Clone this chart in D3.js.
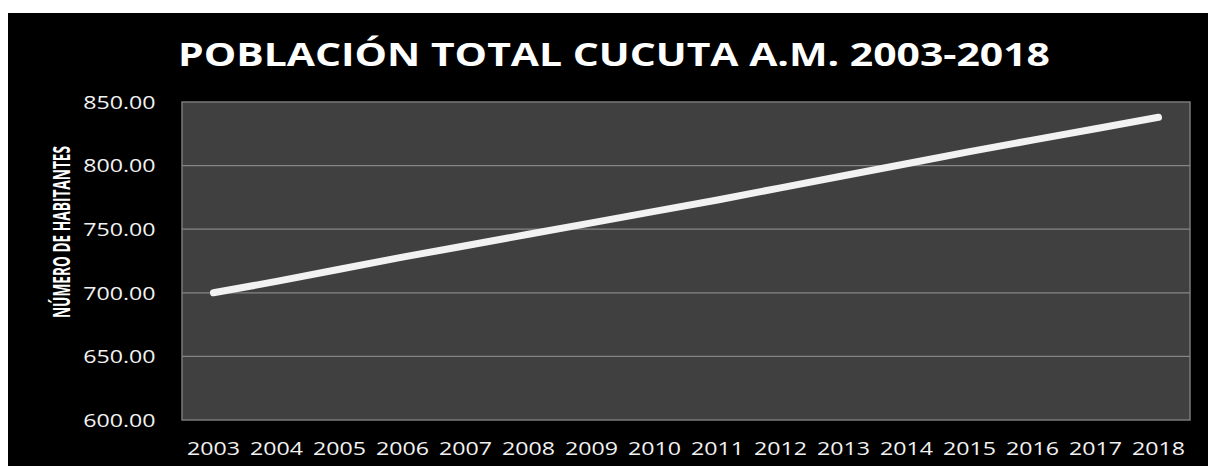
<!DOCTYPE html>
<html>
<head>
<meta charset="utf-8">
<script src="https://cdn.jsdelivr.net/npm/d3@7"></script>
<style>
  html, body { margin: 0; padding: 0; background: #ffffff; }
  svg { display: block; }
</style>
</head>
<body>
<script>
// data (thousands of inhabitants)
var years = ['2003', '2004', '2005', '2006', '2007', '2008', '2009', '2010',
             '2011', '2012', '2013', '2014', '2015', '2016', '2017', '2018'];
var poblacion = [700, 709, 718.5, 728, 737, 746, 755, 764,
                 773, 782.5, 792, 801.5, 811, 820, 829, 838];
var yTicks = [600, 650, 700, 750, 800, 850];

var chartTitle = 'POBLACIÓN TOTAL CUCUTA A.M. 2003-2018';
var yTitle = 'NÚMERO DE HABITANTES';

var width = 1208, height = 466;
var frame = { left: 8, top: 13 };
var plot = { left: 182, right: 1190, top: 102, bottom: 420 };
var stretch = 1.22; // the original picture is stretched sideways

var svg = d3.select('body')
    .append('svg')
    .attr('width', width)
    .attr('height', height);

svg.append('rect')
    .attr('x', frame.left)
    .attr('y', frame.top)
    .attr('width', width - frame.left)
    .attr('height', height - frame.top)
    .attr('fill', '#000000');

var x = d3.scaleBand()
    .domain(years)
    .range([plot.left, plot.right])
    .padding(0);

var y = d3.scaleLinear()
    .domain([600, 850])
    .range([plot.bottom, plot.top]);

// plot area
svg.append('rect')
    .attr('x', plot.left)
    .attr('y', plot.top)
    .attr('width', plot.right - plot.left)
    .attr('height', plot.bottom - plot.top)
    .attr('fill', '#404040')
    .attr('stroke', '#7a7a7a')
    .attr('stroke-width', 1.5);

svg.append('g')
    .selectAll('line')
    .data(yTicks.slice(1, -1))
    .enter()
    .append('line')
    .attr('x1', plot.left)
    .attr('x2', plot.right)
    .attr('y1', function(d) { return y(d); })
    .attr('y2', function(d) { return y(d); })
    .attr('stroke', '#858585')
    .attr('stroke-width', 1.2);

// y tick labels
svg.append('g')
    .selectAll('text')
    .data(yTicks)
    .enter()
    .append('text')
    .attr('transform', function(d) { return `translate(155.5, ${y(d)}) scale(${stretch}, 1)`; })
    .attr('dy', '0.36em')
    .attr('text-anchor', 'end')
    .attr('fill', '#f2f2f2')
    .style('font-size', '19px')
    .text(d3.format('.2f'));

// x tick labels
svg.append('g')
    .selectAll('text')
    .data(years)
    .enter()
    .append('text')
    .attr('transform', function(d) { return `translate(${x(d) + x.bandwidth() / 2}, 455) scale(${stretch}, 1)`; })
    .attr('text-anchor', 'middle')
    .attr('fill', '#f2f2f2')
    .style('font-size', '19px')
    .text(function(d) { return d; });

// the series
var line = d3.line()
    .x(function(d, i) { return x(years[i]) + x.bandwidth() / 2; })
    .y(function(d) { return y(d); });

svg.append('path')
    .datum(poblacion)
    .attr('d', line)
    .attr('fill', 'none')
    .attr('stroke', '#f2f2f2')
    .attr('stroke-width', 7)
    .attr('stroke-linecap', 'round')
    .attr('stroke-linejoin', 'round');

// titles
svg.append('text')
    .attr('x', 178)
    .attr('y', 66)
    .attr('fill', '#ffffff')
    .attr('textLength', 872)
    .attr('lengthAdjust', 'spacingAndGlyphs')
    .style('font-size', '33px')
    .style('font-weight', 700)
    .text(chartTitle);

svg.append('text')
    .attr('transform', `translate(70, 232) scale(${stretch}, 1) rotate(-90)`)
    .attr('text-anchor', 'middle')
    .attr('fill', '#ffffff')
    .attr('textLength', 172)
    .attr('lengthAdjust', 'spacingAndGlyphs')
    .style('font-size', '19.5px')
    .style('font-weight', 700)
    .text(yTitle);

svg.selectAll('text').style('font-family', "'Open Sans', sans-serif");
</script>
</body>
</html>
